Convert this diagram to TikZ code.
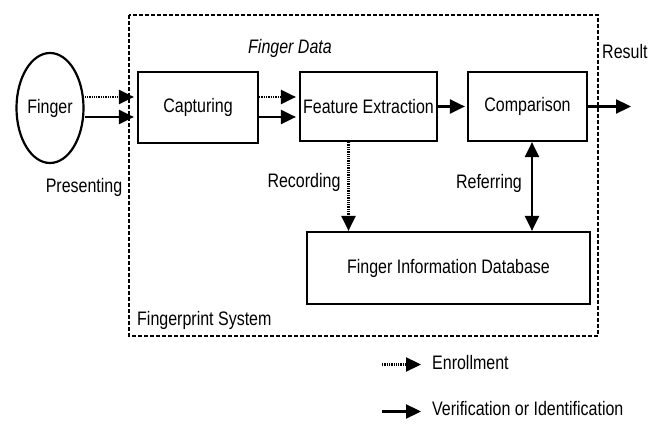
\documentclass[tikz,border=0pt]{standalone}
\usepackage{fontspec}
\setmainfont{Liberation Sans}
\usetikzlibrary{shapes.geometric,arrows.meta}
\newcommand{\vtxt}[1]{\scalebox{1}[1.22]{#1}}
\begin{document}
\begin{tikzpicture}[x=1pt,y=-1pt,
  every node/.style={font=\fontsize{16}{19}\selectfont, inner sep=0pt},
  blk/.style={draw, line width=2.2pt, rectangle},
  solidarr/.style={line width=2.3pt, -{Triangle[length=15pt,width=14pt]}},
  dotarr/.style={line width=2.3pt, dash pattern=on 1.3pt off 1pt, -{Triangle[length=15pt,width=14pt]}},
  bothsolid/.style={line width=2.3pt, {Triangle[length=15pt,width=14pt]}-{Triangle[length=15pt,width=14pt]}},
  sysbox/.style={line width=2pt, dash pattern=on 4pt off 2pt}]
\useasboundingbox (0,0) rectangle (649,438);
\fill[white] (0,0) rectangle (649,438);
% system border
\draw[sysbox] (129,15) rectangle (598,336);
% nodes
\node[draw, ellipse, line width=2.2pt, minimum width=67pt, minimum height=110pt] (finger) at (50,108) {\vtxt{Finger}};
\node[blk, minimum width=120pt, minimum height=71pt] (cap) at (198,107.5) {\vtxt{Capturing}};
\node[blk, minimum width=137pt, minimum height=69pt] (fe) at (368.5,106.5) {\vtxt{Feature Extraction}};
\node[blk, minimum width=119pt, minimum height=69pt] (comp) at (527.5,106.5) {\vtxt{Comparison}};
\node[blk, minimum width=283pt, minimum height=72pt] (db) at (448.5,268) {\vtxt{Finger Information Database}};
\coordinate (res) at (631,106.5);
% labels
\node (fdata) at (290,48) {\vtxt{\itshape Finger Data}};
\node[anchor=west] (result) at (602,52) {\vtxt{Result}};
\node (present) at (84,187) {\vtxt{Presenting}};
\node (rec) at (304,182) {\vtxt{Recording}};
\node (ref) at (489,183) {\vtxt{Referring}};
\node[anchor=west] (fps) at (137,320) {\vtxt{Fingerprint System}};
% connectors
\draw[dotarr] ([yshift=11pt]finger.east) -- ([yshift=10.5pt,xshift=-3pt]cap.west);
\draw[solidarr] ([yshift=-9pt]finger.east) -- ([yshift=-9.5pt,xshift=-3pt]cap.west);
\draw[dotarr] ([yshift=10.5pt]cap.east) -- ([yshift=9.5pt,xshift=-3pt]fe.west);
\draw[solidarr] ([yshift=-9.5pt]cap.east) -- ([yshift=-10.5pt,xshift=-3pt]fe.west);
\draw[solidarr] (fe.east) -- ([xshift=-2pt]comp.west);
\draw[solidarr] (comp.east) -- (res);
\draw[dotarr] ([xshift=-20pt]fe.south) -- ([xshift=-20pt]fe.south |- db.north);
\draw[bothsolid] ([xshift=4.5pt]comp.south) -- ([xshift=4.5pt]comp.south |- db.north);
% legend
\coordinate (l1a) at (382,364.5);
\coordinate (l1b) at (421,364.5);
\coordinate (l2a) at (382,411.5);
\coordinate (l2b) at (421,411.5);
\draw[dotarr] (l1a) -- (l1b);
\draw[solidarr] (l2a) -- (l2b);
\node[anchor=west] (enr) at (432,363) {\vtxt{Enrollment}};
\node[anchor=west] (ver) at (432,409) {\vtxt{Verification or Identification}};
\end{tikzpicture}
\end{document}
